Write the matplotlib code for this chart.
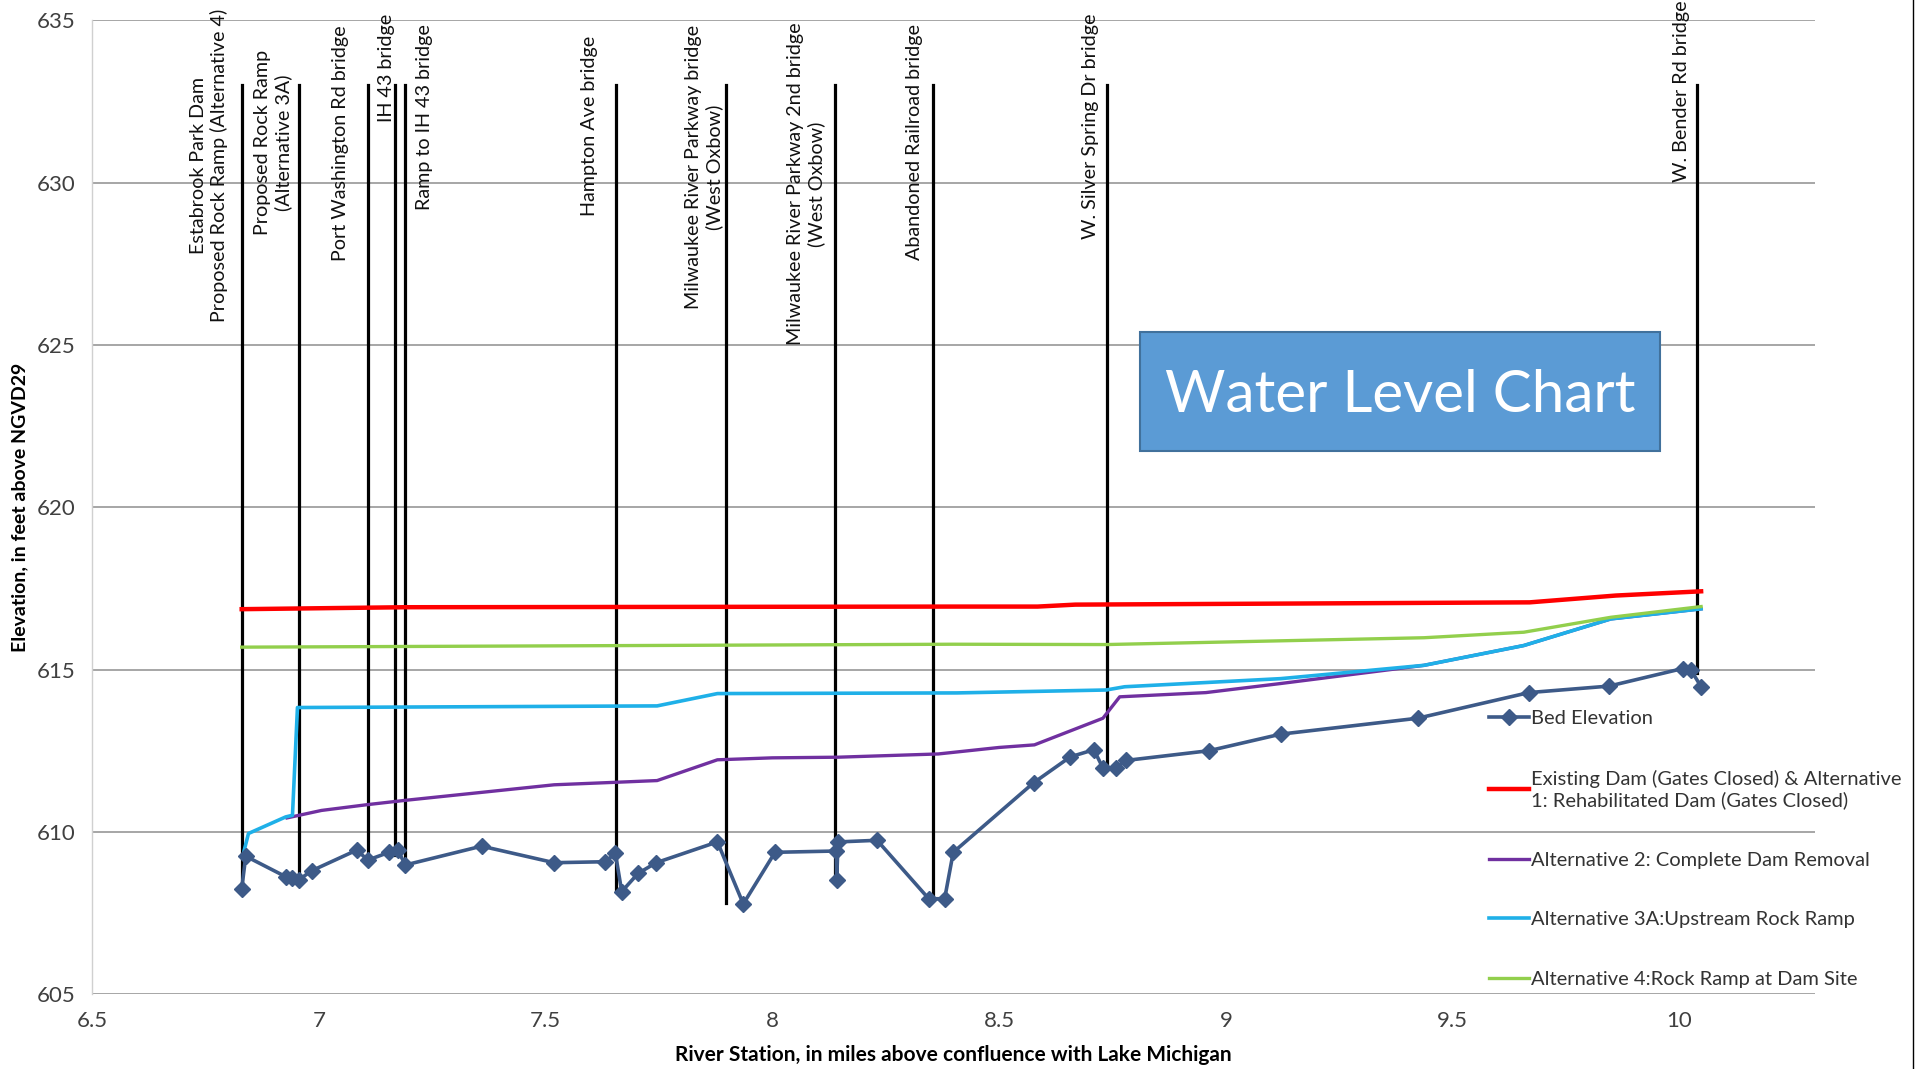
import matplotlib
matplotlib.use('Agg')
import matplotlib.pyplot as plt
from matplotlib.patches import Rectangle
from matplotlib.lines import Line2D

# bed elevation survey points (river mile, elevation ft)
bed_x = [6.83, 6.839, 6.927, 6.942, 6.956, 6.984, 7.084, 7.108, 7.155, 7.174, 7.191,
         7.359, 7.519, 7.632, 7.654, 7.668, 7.704, 7.744, 7.879, 7.936, 8.006,
         8.141, 8.142, 8.145, 8.231, 8.345, 8.380, 8.399, 8.576, 8.657, 8.709,
         8.729, 8.757, 8.780, 8.963, 9.121, 9.423, 9.668, 9.845, 10.007, 10.025, 10.048]
bed_y = [608.24, 609.25, 608.62, 608.57, 608.52, 608.80, 609.44, 609.13, 609.37, 609.44, 608.98,
         609.56, 609.05, 609.08, 609.34, 608.16, 608.72, 609.05, 609.69, 607.78, 609.37,
         609.41, 608.52, 609.69, 609.74, 607.94, 607.94, 609.37, 611.51, 612.31, 612.53,
         611.97, 611.97, 612.20, 612.50, 613.01, 613.50, 614.29, 614.49, 615.03, 615.00, 614.47]

existing_x = [6.83, 7.19, 8.40, 8.585, 8.668, 9.67, 9.86, 10.048]
existing_y = [616.86, 616.92, 616.94, 616.94, 617.00, 617.07, 617.28, 617.41]

alt2_x = [6.93, 7.006, 7.108, 7.19, 7.519, 7.66, 7.746, 7.879, 8.0, 8.145, 8.366, 8.5,
          8.578, 8.729, 8.766, 8.956, 9.121, 9.437, 9.657, 9.849, 10.048]
alt2_y = [610.43, 610.66, 610.84, 610.97, 611.45, 611.53, 611.58, 612.22, 612.28, 612.30, 612.40, 612.60,
          612.68, 613.50, 614.16, 614.29, 614.57, 615.13, 615.74, 616.56, 616.87]

alt3a_x = [6.835, 6.845, 6.927, 6.942, 6.953, 7.746, 7.879, 8.407, 8.736, 8.777, 9.121,
           9.437, 9.657, 9.849, 10.048]
alt3a_y = [609.40, 609.95, 610.46, 610.51, 613.83, 613.88, 614.26, 614.28, 614.37, 614.47, 614.72,
           615.13, 615.74, 616.56, 616.87]

alt4_x = [6.83, 8.40, 8.736, 9.437, 9.657, 9.849, 10.048]
alt4_y = [615.69, 615.78, 615.77, 615.98, 616.15, 616.61, 616.94]

# bridge / structure markers
bridge_x = [6.83, 6.957, 7.109, 7.169, 7.191, 7.656, 7.897, 8.139, 8.354, 8.738, 10.040]
bridge_bottom = [608.2, 608.5, 609.1, 609.3, 609.0, 608.2, 607.8, 608.5, 607.9, 612.0, 614.9]
bridge_top = 633.0
bridge_labels = ['Estabrook Park Dam\nProposed Rock Ramp (Alternative 4)',
                 'Proposed Rock Ramp\n(Alternative 3A)',
                 'Port Washington Rd bridge',
                 'IH 43 bridge',
                 'Ramp to IH 43 bridge',
                 'Hampton Ave bridge',
                 'Milwaukee River Parkway bridge\n(West Oxbow)',
                 'Milwaukee River Parkway 2nd bridge\n(West Oxbow)',
                 'Abandoned Railroad bridge',
                 'W. Silver Spring Dr bridge',
                 'W. Bender Rd bridge']
label_x = [6.758, 6.900, 7.047, 7.150, 7.234, 7.598, 7.849, 8.074, 8.313, 8.702, 10.005]
label_y = [630.52, 631.24, 631.2, 633.53, 632.03, 631.76, 630.48, 629.96, 631.24, 631.73, 632.82]

x_ticks = [6.5, 7, 7.5, 8, 8.5, 9, 9.5, 10]
x_tick_labels = ['6.5', '7', '7.5', '8', '8.5', '9', '9.5', '10']
y_ticks = [605, 610, 615, 620, 625, 630, 635]

narrow = ['Lato', 'DejaVu Sans']

fig = plt.figure(figsize=(19.17, 10.69), dpi=100)
ax = fig.add_axes([0.048, 0.070, 0.899, 0.911])

ax.set_xlim(6.5, 10.3)
ax.set_ylim(605, 635)
ax.set_yticks(y_ticks)
ax.set_xticks(x_ticks)
ax.set_xticklabels(x_tick_labels)
ax.tick_params(length=0, pad=12, labelsize=16, colors='#404040')
for lab in ax.get_xticklabels() + ax.get_yticklabels():
    lab.set_family(narrow)
ax.yaxis.grid(True, color='#a6a6a6', lw=1.4)
ax.set_axisbelow(True)
for s in ['top', 'right', 'bottom']:
    ax.spines[s].set_visible(False)
ax.spines['left'].set_color('#d0d0d0')
ax.spines['left'].set_linewidth(1)

# bridge lines
for bx, bb in zip(bridge_x, bridge_bottom):
    ax.plot([bx, bx], [bb, bridge_top], color='black', lw=2.3, zorder=2)
for lx, ly, txt in zip(label_x, label_y, bridge_labels):
    ax.text(lx, ly, txt, rotation=90, ha='center', va='center',
            multialignment='center', fontsize=14.2, family=narrow, color='#111111')

ax.plot(bed_x, bed_y, color='#3d5a88', lw=2.6, marker='D', markersize=8.5,
        label='Bed Elevation', zorder=4)
ax.plot(existing_x, existing_y, color='#ff0000', lw=3.2,
        label='Existing Dam (Gates Closed) & Alternative\n1: Rehabilitated Dam (Gates Closed)', zorder=3)
ax.plot(alt2_x, alt2_y, color='#7030a0', lw=2.4, label='Alternative 2: Complete Dam Removal', zorder=3)
ax.plot(alt3a_x, alt3a_y, color='#1fb0e8', lw=2.6, label='Alternative 3A:Upstream Rock Ramp', zorder=3)
ax.plot(alt4_x, alt4_y, color='#92cf4c', lw=2.4, label='Alternative 4:Rock Ramp at Dam Site', zorder=3)

leg = ax.legend(loc='upper left', bbox_to_anchor=(0.806, 0.300), frameon=False,
                prop={'family': narrow, 'size': 14.5}, labelspacing=2.12,
                handlelength=2.0, handletextpad=0.1, borderaxespad=0)
for t in leg.get_texts():
    t.set_color('#333333')

ax.set_ylabel('Elevation, in feet above NGVD29', fontsize=14, fontweight='bold',
              family=narrow, labelpad=6)
ax.set_xlabel('River Station, in miles above confluence with Lake Michigan', fontsize=15,
              fontweight='bold', family=narrow, labelpad=10)

# title box
ax.add_patch(Rectangle((0.608, 0.558), 0.302, 0.122, transform=ax.transAxes,
                       facecolor='#5b9bd5', edgecolor='#41719c', lw=1.5, zorder=6))
ax.text(0.759, 0.615, 'Water Level Chart', transform=ax.transAxes, ha='center', va='center',
        color='white', fontsize=42, family='Lato', zorder=7)

fig.add_artist(Line2D([0.998, 0.998], [0, 1], transform=fig.transFigure, color='black', lw=1))

fig.savefig('out.png', dpi=100)
